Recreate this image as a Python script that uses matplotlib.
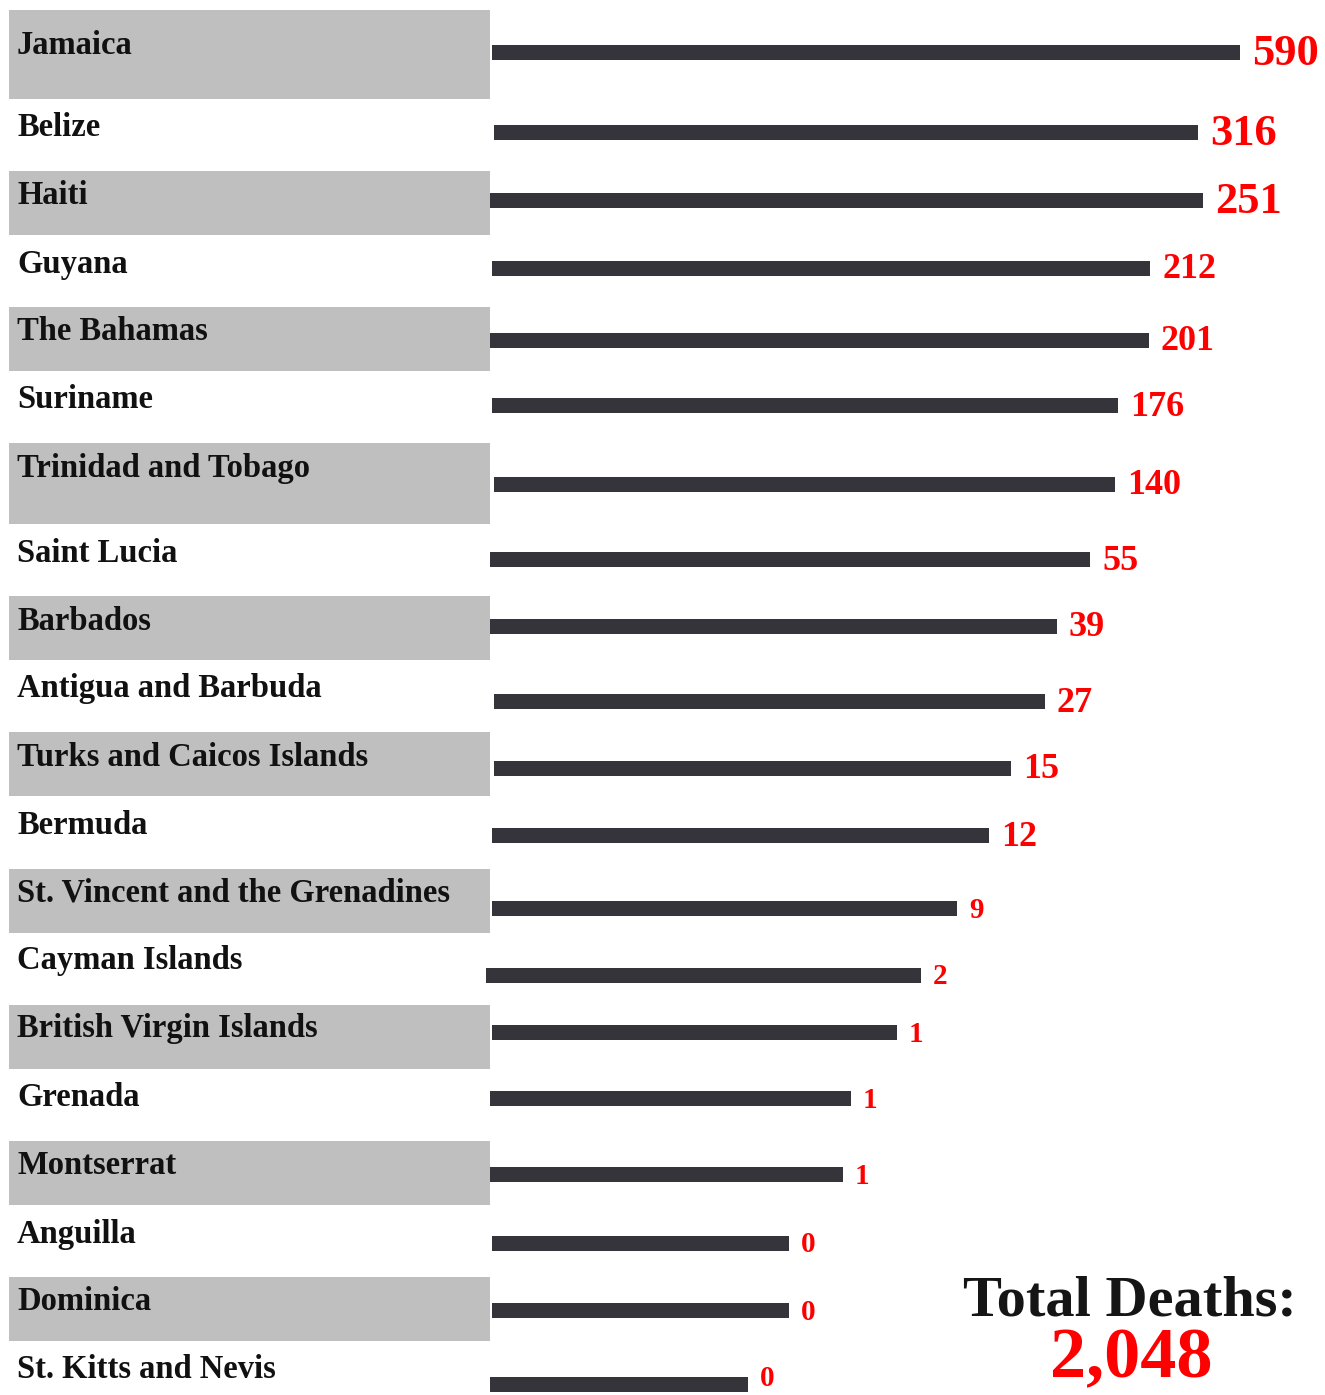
import matplotlib.pyplot as plt
from matplotlib.patches import Rectangle

countries = ["Jamaica", "Belize", "Haiti", "Guyana", "The Bahamas", "Suriname",
             "Trinidad and Tobago", "Saint Lucia", "Barbados", "Antigua and Barbuda",
             "Turks and Caicos Islands", "Bermuda", "St. Vincent and the Grenadines",
             "Cayman Islands", "British Virgin Islands", "Grenada", "Montserrat",
             "Anguilla", "Dominica", "St. Kitts and Nevis"]
deaths = [590, 316, 251, 212, 201, 176, 140, 55, 39, 27, 15, 12, 9, 2, 1, 1, 1, 0, 0, 0]
# bar lengths as drawn in the original (not proportional to deaths)
bar_len = [748, 704, 713, 658, 659, 626, 621, 600, 567, 551, 517, 497, 465, 435, 405,
           361, 353, 297, 297, 258]
total = "2,048"

# layout (pixel coordinates of the original picture)
row_edges = [10, 99, 171, 235, 307, 371, 443, 524, 596, 660, 732, 796, 869, 933,
             1005, 1069, 1141, 1205, 1277, 1341, 1395]
label_y = [45, 127, 196, 264, 332, 400, 468, 553, 621, 689, 757, 825, 893, 961,
           1029, 1097, 1166, 1234, 1302, 1370]
bar_y = [52, 132, 200, 268, 340, 405, 484, 559, 626, 701, 768, 835, 908, 975,
         1032, 1098, 1174, 1243, 1310, 1384]
bar_x0 = [492, 494, 490, 492, 490, 492, 494, 490, 490, 494, 494, 492, 492, 486,
          492, 490, 490, 492, 492, 490]

W, H = 1325, 1395
fig = plt.figure(figsize=(W / 100, H / 100), dpi=100)
ax = fig.add_axes([0, 0, 1, 1])
ax.set_xlim(0, W)
ax.set_ylim(H, 0)
ax.axis("off")

serif = "Liberation Serif"

for i, name in enumerate(countries):
    top, bot = row_edges[i], row_edges[i + 1]
    if i % 2 == 0:
        ax.add_patch(Rectangle((9, top), 481, bot - top, color="#bfbfbf", lw=0))
    ax.text(17, label_y[i], name, fontsize=23.5, fontweight="bold", family=serif,
            color="#111111", va="center", ha="left")
    ax.barh(bar_y[i], bar_len[i], left=bar_x0[i], height=15, color="#35343a")

    v = deaths[i]
    if v >= 250:
        fs = 32
    elif v >= 10:
        fs = 26
    else:
        fs = 21
    # keep the bottom label inside the canvas
    ty = min(bar_y[i] + 2, H - 16)
    ax.text(bar_x0[i] + bar_len[i] + 12, ty, str(v), fontsize=fs,
            fontweight="bold", family=serif, color="red", va="center", ha="left")

ax.text(1130, 1302, "Total Deaths:", fontsize=42, fontweight="bold", family=serif,
        color="#151515", ha="center", va="center")
ax.text(1131, 1360, total, fontsize=52, fontweight="bold", family=serif,
        color="red", ha="center", va="center")

fig.savefig("out.png", dpi=100)
